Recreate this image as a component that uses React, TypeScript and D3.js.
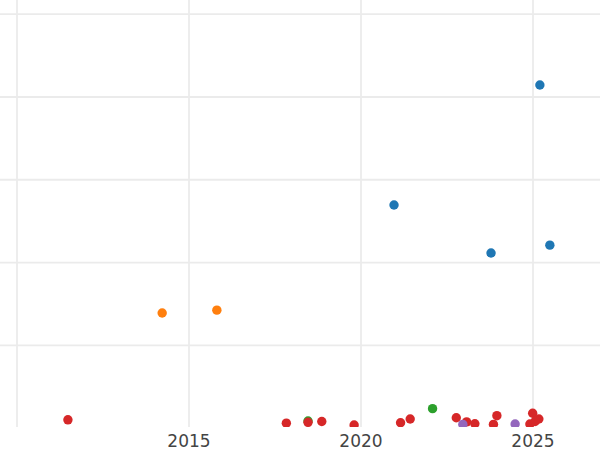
import React from "react";
import * as d3 from "d3";

const seriesNames = ["blue", "orange", "green", "red", "purple"];
const seriesColors = ["#1f77b4", "#ff7f0e", "#2ca02c", "#d62728", "#9467bd"];

const blueYears = [2025.2, 2020.96, 2023.78, 2025.49];
const blueValues = [82.9, 53.9, 42.3, 44.2];

const orangeYears = [2014.22, 2015.81];
const orangeValues = [27.8, 28.5];

const greenYears = [2022.08, 2018.46];
const greenValues = [4.7, 1.7];

const redYears = [
  2011.48, 2017.83, 2018.46, 2018.86, 2019.8, 2021.15, 2021.43, 2022.77,
  2023.07, 2023.31, 2023.85, 2023.95, 2024.99, 2025.17, 2024.91, 2025.06,
];
const redValues = [
  2.0, 1.2, 1.4, 1.6, 0.75, 1.3, 2.2, 2.5, 1.5, 1.06, 0.9, 3.0, 3.6, 2.2, 1.0,
  1.6,
];

const purpleYears = [2022.96, 2024.48];
const purpleValues = [0.9, 1.0];

const xTickValues = [2015, 2020, 2025];
const xGridValues = [2010, 2015, 2020, 2025];
const yGridValues = [20, 40, 60, 80, 100];

const allYears = [blueYears, orangeYears, greenYears, redYears, purpleYears];
const allValues = [blueValues, orangeValues, greenValues, redValues, purpleValues];

export default function App() {
  const W = 600;
  const H = 450;
  const plotBottom = 427;
  const x = d3.scaleLinear().domain([2010, 2025]).range([17, 533]);
  const y = d3.scaleLinear().domain([0, 100]).range([428.1, 14.2]);

  return (
    <svg
      width={W}
      height={H}
      style={{ position: "absolute", left: 0, top: 0, background: "#fff" }}
    >
      <defs>
        <clipPath id="plotclip">
          <rect x={0} y={0} width={W} height={plotBottom} />
        </clipPath>
      </defs>
      <rect x={0} y={0} width={W} height={H} fill="#fff" />
      <g clipPath="url(#plotclip)">
        {yGridValues.map((v) => (
          <line
            key={"hy" + v}
            x1={0}
            x2={W}
            y1={y(v)}
            y2={y(v)}
            stroke="#ebebeb"
            strokeWidth={1.8}
          />
        ))}
        {xGridValues.map((v) => (
          <line
            key={"vx" + v}
            x1={x(v)}
            x2={x(v)}
            y1={0}
            y2={plotBottom}
            stroke="#ebebeb"
            strokeWidth={1.8}
          />
        ))}
        {seriesNames.map((name, si) => (
          <g key={name}>
            {allYears[si].map((yr, i) => (
              <circle
                key={i}
                cx={x(yr)}
                cy={y(allValues[si][i])}
                r={4.7}
                fill={seriesColors[si]}
              />
            ))}
          </g>
        ))}
      </g>
      {xTickValues.map((v) => (
        <text
          key={"t" + v}
          x={x(v)}
          y={446.5}
          textAnchor="middle"
          fontFamily="DejaVu Sans"
          fontSize={17}
          fill="#444"
        >
          {v}
        </text>
      ))}
    </svg>
  );
}
